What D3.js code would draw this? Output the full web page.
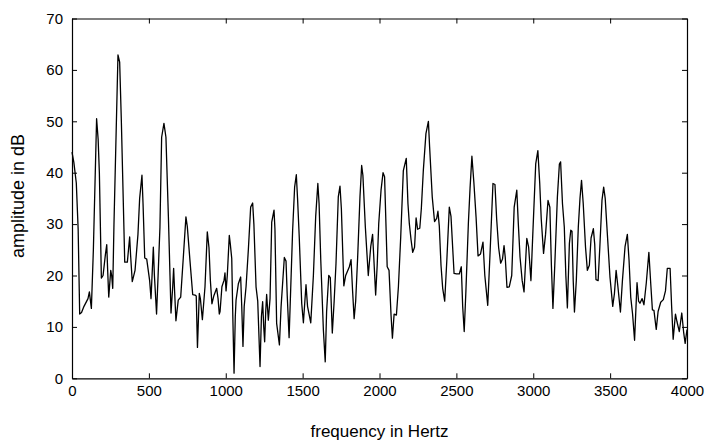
<!DOCTYPE html>
<html>
<head>
<meta charset="utf-8">
<script src="https://cdn.jsdelivr.net/npm/d3@7"></script>
<style>
  html, body { margin: 0; padding: 0; background: #fff; }
  svg { display: block; }
  text { font-family: "Liberation Sans", Arial, Helvetica, sans-serif; fill: #000; }
</style>
</head>
<body>
<svg id="chart" width="710" height="444"></svg>
<script>
// Frequency (Hz) of each vertex
const frequency = [
  0, 12, 28, 40, 50, 62, 78, 104, 113, 126, 139, 160, 170, 178, 191, 202, 217, 226, 232, 239,
  252, 258, 265, 273, 299, 310, 321, 343, 360, 375, 381, 392, 410, 429, 440, 455, 462, 473, 486, 505,
  514, 529, 536, 550, 560, 572, 583, 598, 611, 627, 644, 655, 661, 668, 676, 691, 707, 725, 741, 750,
  767, 785, 800, 808, 816, 828, 835, 848, 865, 880, 891, 900, 910, 922, 941, 950, 958, 963, 975, 989,
  995, 1002, 1010, 1023, 1030, 1039, 1046, 1054, 1062, 1067, 1082, 1097, 1104, 1112, 1120, 1132, 1147, 1162, 1175, 1183,
  1197, 1208, 1223, 1232, 1240, 1247, 1253, 1260, 1266, 1277, 1288, 1299, 1314, 1320, 1331, 1349, 1360, 1381, 1392, 1400,
  1412, 1422, 1435, 1448, 1459, 1467, 1478, 1494, 1505, 1522, 1532, 1553, 1570, 1585, 1599, 1607, 1618, 1635, 1647, 1656,
  1670, 1680, 1693, 1705, 1717, 1732, 1743, 1752, 1768, 1780, 1804, 1815, 1825, 1835, 1845, 1858, 1873, 1884, 1892, 1908,
  1927, 1943, 1955, 1962, 1975, 1985, 1995, 2010, 2023, 2033, 2050, 2062, 2075, 2084, 2095, 2110, 2123, 2138, 2155, 2174,
  2185, 2194, 2205, 2216, 2228, 2238, 2248, 2262, 2272, 2285, 2302, 2318, 2326, 2343, 2358, 2372, 2380, 2389, 2400, 2411,
  2424, 2438, 2454, 2465, 2485, 2500, 2519, 2532, 2541, 2551, 2562, 2578, 2589, 2601, 2614, 2628, 2641, 2657, 2673, 2685,
  2704, 2720, 2738, 2751, 2762, 2775, 2788, 2800, 2810, 2818, 2829, 2844, 2860, 2876, 2893, 2903, 2914, 2928, 2940, 2958,
  2970, 2985, 2997, 3016, 3030, 3042, 3052, 3067, 3080, 3096, 3108, 3118, 3128, 3140, 3157, 3170, 3178, 3190, 3202, 3212,
  3222, 3235, 3244, 3252, 3260, 3268, 3280, 3293, 3304, 3314, 3325, 3340, 3352, 3365, 3376, 3391, 3400, 3408, 3422, 3433,
  3447, 3458, 3468, 3478, 3499, 3517, 3528, 3539, 3550, 3567, 3580, 3597, 3612, 3623, 3634, 3646, 3659, 3675, 3685, 3694,
  3708, 3720, 3735, 3752, 3765, 3775, 3785, 3800, 3812, 3829, 3846, 3860, 3872, 3890, 3900, 3910, 3925, 3935, 3950, 3966,
  3978, 3988, 4000
];
// Amplitude (dB) at each vertex
const amplitude = [
  44, 42, 38, 29, 12.5, 12.8, 14, 15.5, 16.8, 13.6, 25, 50.5, 46.5, 40, 19.5, 20, 24, 26, 21, 15.8,
  21, 20, 17.5, 30, 62.9, 61.5, 50, 22.6, 22.6, 27.5, 24, 18.8, 21, 28, 35, 39.5, 34, 23.4, 23.2, 19,
  15.5, 25.5, 20, 12.5, 20, 29.4, 46.9, 49.6, 46.9, 31.4, 12.7, 17.8, 21.4, 16.5, 11.2, 15.2, 15.8, 24, 31.4, 29.5,
  23, 16.3, 16.2, 16, 6, 16.5, 15.5, 11.4, 17.8, 28.5, 25.4, 19, 14.5, 16, 17.5, 15.5, 12.5, 13, 17.8, 19.1,
  20.5, 17, 20, 27.8, 26, 23.3, 12, 1, 12, 15.2, 18.4, 19.7, 14, 6.2, 14, 17.8, 25, 33.3, 34.1, 30,
  17.8, 15, 2.3, 12, 14.9, 10, 7.1, 13, 16.3, 11.3, 15.5, 30.4, 32.7, 29, 10.7, 6.5, 14, 23.5, 22.8, 16,
  7.9, 17, 28.8, 37.2, 39.6, 35, 27.5, 14.6, 10.8, 18.2, 14, 10.8, 20, 31.5, 37.9, 34, 23, 9.4, 3.2, 13,
  20, 19.6, 8.8, 15, 22.3, 35.3, 37.4, 33, 18, 20, 21.7, 23.1, 17, 11.6, 15, 23.6, 35.3, 41.4, 39.5, 29.4,
  20, 25.6, 28, 24, 16.2, 22, 30.1, 36.6, 40, 39.2, 21.7, 21, 12.3, 7.8, 12.5, 12.3, 17.8, 27.5, 40.4, 42.8,
  34, 30.1, 27, 24.5, 25.5, 31.2, 29, 29.2, 33, 40.4, 47.6, 50, 45, 35.3, 30.5, 31.1, 32.5, 29.6, 22, 17.5,
  15, 23, 33.3, 31.5, 20.4, 20.3, 20.3, 21.7, 14, 9.1, 17, 30.1, 37, 43.2, 38, 31.4, 23.8, 24.2, 26.5, 20,
  14.2, 25, 37.9, 37.7, 31, 25.4, 22.4, 23.2, 25.8, 23.5, 17.7, 17.8, 20, 33.3, 36.6, 30, 23.6, 19, 16.8, 27.2,
  25.5, 19, 28, 41.7, 44.3, 38, 31, 24.3, 28, 34.6, 33.3, 22, 13.6, 22, 35.3, 41.7, 42.1, 34, 29.4, 20,
  13.7, 26.2, 28.8, 28.6, 19, 12.9, 19, 29.4, 35, 38.5, 34, 25.5, 21, 22, 27.3, 29.1, 26, 19.2, 19, 25.5,
  34.6, 37.2, 35, 30, 19.7, 14, 16.5, 21, 18, 12.9, 19, 25.6, 28, 23, 15.8, 12.5, 7.4, 18.6, 15, 14.6,
  15.5, 14.3, 18.5, 24.5, 18, 13.3, 13.2, 9.5, 13, 14.8, 15.3, 17, 21.4, 21.4, 14, 7.6, 12.5, 11, 9.1, 12.7,
  9, 6.8, 9.5
];
const xTickValues = [0, 500, 1000, 1500, 2000, 2500, 3000, 3500, 4000];
const yTickValues = [0, 10, 20, 30, 40, 50, 60, 70];
const xTitle = "frequency in Hertz";
const yTitle = "amplitude in dB";

const points = frequency.map((f, i) => ({ f, a: amplitude[i] }));

const margin = { left: 72, right: 23, top: 18.5, bottom: 65.7 };
const W = 710, H = 444;
const iw = W - margin.left - margin.right;
const ih = H - margin.top - margin.bottom;

const svg = d3.select("#chart");
const g = svg.append("g").attr("transform", `translate(${margin.left},${margin.top})`);

const x = d3.scaleLinear().domain([0, 4000]).range([0, iw]);
const y = d3.scaleLinear().domain([0, 70]).range([ih, 0]);

const tickLen = 5;
const fontSize = "15px";
const fmt = d3.format("d");

// bottom axis (ticks inward)
const xb = g.append("g").attr("transform", `translate(0,${ih})`)
  .call(d3.axisBottom(x).tickValues(xTickValues).tickFormat(fmt).tickSizeInner(-tickLen).tickSizeOuter(0).tickPadding(7));
// top axis (ticks inward, no labels)
const xt = g.append("g")
  .call(d3.axisTop(x).tickValues(xTickValues).tickSizeInner(-tickLen).tickSizeOuter(0).tickFormat(""));
// left axis
const yl = g.append("g")
  .call(d3.axisLeft(y).tickValues(yTickValues).tickFormat(fmt).tickSizeInner(-tickLen).tickSizeOuter(0).tickPadding(9));
// right axis
const yr = g.append("g").attr("transform", `translate(${iw},0)`)
  .call(d3.axisRight(y).tickValues(yTickValues).tickSizeInner(-tickLen).tickSizeOuter(0).tickFormat(""));

[xb, xt, yl, yr].forEach(a => {
  a.select(".domain").attr("stroke", "#000").attr("stroke-width", 1.2);
  a.selectAll(".tick line").attr("stroke", "#000").attr("stroke-width", 1);
  a.selectAll("text").style("font-size", fontSize).attr("fill", "#000")
    .style("font-family", '"Liberation Sans", Arial, sans-serif');
});

// line
const line = d3.line().x(d => x(d.f)).y(d => y(d.a));
g.append("path").datum(points)
  .attr("fill", "none").attr("stroke", "#000").attr("stroke-width", 1.3)
  .attr("stroke-linejoin", "round")
  .attr("d", line);

// titles
svg.append("text").attr("x", margin.left + iw / 2).attr("y", 437)
  .attr("text-anchor", "middle").style("font-size", "17px").text(xTitle);
svg.append("text").attr("transform", `translate(24,196) rotate(-90)`)
  .attr("text-anchor", "middle").style("font-size", "18px").text(yTitle);
</script>
</body>
</html>
